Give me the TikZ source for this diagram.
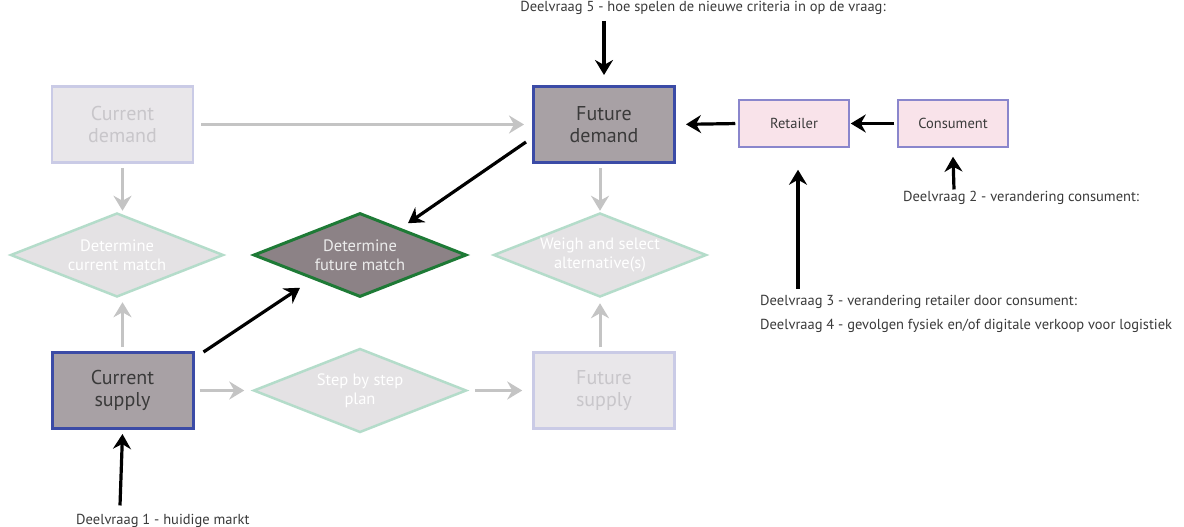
\documentclass[tikz,border=0pt]{standalone}
\usepackage{fontspec}
\setmainfont{PT Sans}
\usetikzlibrary{arrows.meta,shapes.geometric,calc}
\definecolor{fadefill}{HTML}{E9E7EA}
\definecolor{fadeblue}{HTML}{CACBE6}
\definecolor{fadetext}{HTML}{C8C6CA}
\definecolor{dfadefill}{HTML}{E4E2E4}
\definecolor{fadegreen}{HTML}{B4DCCA}
\definecolor{activefill}{HTML}{A8A1A5}
\definecolor{activeblue}{HTML}{3B4BA6}
\definecolor{activetext}{HTML}{3A3A3A}
\definecolor{matchfill}{HTML}{8C8286}
\definecolor{matchgreen}{HTML}{1E7A36}
\definecolor{pinkfill}{HTML}{F9E3EA}
\definecolor{pinkborder}{HTML}{8A86CC}
\definecolor{garrowcol}{HTML}{C4C4C4}
\tikzset{
  fadebox/.style={draw=fadeblue, fill=fadefill, line width=2.5pt, minimum width=141pt, minimum height=76pt, inner sep=0pt, align=center, text=fadetext, font=\fontsize{20}{22.5}\selectfont},
  activebox/.style={fadebox, draw=activeblue, fill=activefill, line width=3pt, text=activetext},
  fadediam/.style={diamond, draw=fadegreen, fill=dfadefill, line width=2.5pt, minimum width=213pt, minimum height=84pt, inner sep=0pt},
  matchdiam/.style={fadediam, draw=matchgreen, fill=matchfill, line width=3pt},
  diamtext/.style={inner sep=0pt, align=center, text=white, font=\fontsize{16.5}{19}\selectfont},
  matchtext/.style={diamtext, text=white!92!black},
  pinkbox/.style={draw=pinkborder, fill=pinkfill, line width=1.5pt, minimum width=110pt, minimum height=47pt, inner sep=0pt, text=activetext, font=\fontsize{14.5}{16}\selectfont},
  qtext/.style={inner sep=0pt, text=activetext, font=\fontsize{14.5}{16}\selectfont},
  garrow/.style={draw=garrowcol, line width=3pt, -{Stealth[length=15pt,width=18pt,inset=5pt]}},
  barrow/.style={draw=black, line width=3.2pt, -{Stealth[length=15pt,width=18pt,inset=5pt]}},
}
\begin{document}
\begin{tikzpicture}[x=1pt,y=-1pt]
\useasboundingbox (0,0) rectangle (1184,527);
\fill[white] (0,0) rectangle (1184,527);
% nodes
\node[fadebox]   (cd)  at (122.5,124.5) {Current\\demand};
\node[activebox] (fd)  at (604,124.5)   {Future\\demand};
\node[pinkbox]   (ret) at (794,123.5)   {Retailer};
\node[pinkbox]   (con) at (953,123.5)   {Consument};
\node[fadediam, label={[diamtext]center:Determine\\current match}]     (dcm) at (117,255) {};
\node[matchdiam, label={[matchtext]center:Determine\\future match}]    (dfm) at (360,255) {};
\node[fadediam, label={[diamtext]center:Weigh and select\\alternative(s)}] (wsa) at (600,255) {};
\node[activebox] (cs)  at (122.5,390.5) {Current\\supply};
\node[fadediam, label={[diamtext]center:Step by step\\plan}] (ssp) at (360,390.5) {};
\node[fadebox]   (fs)  at (604,390.5)   {Future\\supply};
% question texts
\node[qtext, anchor=base] (q5) at (703,12) {Deelvraag 5 - hoe spelen de nieuwe criteria in op de vraag:};
\node[qtext, anchor=base west] (q2) at (903,201) {Deelvraag 2 - verandering consument:};
\node[qtext, anchor=base west] (q3) at (760,305) {Deelvraag 3 - verandering retailer door consument:};
\node[qtext, anchor=base west] (q4) at (760,329) {Deelvraag 4 - gevolgen fysiek en/of digitale verkoop voor logistiek};
\node[qtext, anchor=base west] (q1) at (76,524) {Deelvraag 1 - huidige markt};
% gray connectors
\draw[garrow, shorten <=7pt, shorten >=8pt] (cd.east) -- (cd.east -| fd.west);
\draw[garrow, shorten <=4pt, shorten >=1pt] (cd.south) -- (cd.south |- dcm.north);
\draw[garrow, shorten <=4pt, shorten >=4pt] (cs.north) -- (cs.north |- dcm.south);
\draw[garrow, shorten <=5pt, shorten >=8pt] (cs.east) -- (ssp.west);
\draw[garrow, shorten <=7pt, shorten >=10pt] (ssp.east) -- (fs.west);
\draw[garrow, shorten <=4pt, shorten >=5pt] (fs.north -| wsa.south) -- (wsa.south);
\draw[garrow, shorten <=4pt, shorten >=1pt] (fd.south -| wsa.north) -- (wsa.north);
% black connectors
\draw[barrow] ($(fd.north)+(0,-64)$) -- ($(fd.north)+(0,-10)$);
\draw[barrow, shorten <=3pt, shorten >=10pt] (ret.west) -- (fd.east);
\draw[barrow, shorten <=3pt, shorten >=1pt] (con.west) -- (ret.east);
\draw[barrow] ($(q2.north west)+(51,-1)$) -- ($(con.south)+(0,9)$);
\draw[barrow] ($(q3.north west)+(38,-6)$) -- ($(ret.south)+(4,22)$);
\draw[barrow] ($(fd.south west)+(-6,-22)$) -- ($(dfm.north east)+(-6,-10)$);
\draw[barrow] ($(cs.north east)+(9,1)$) -- ($(dfm.south west)+(-6,11)$);
\draw[barrow] ($(q1.north west)+(44,-8)$) -- ($(cs.south)+(0,4)$);
\end{tikzpicture}
\end{document}
